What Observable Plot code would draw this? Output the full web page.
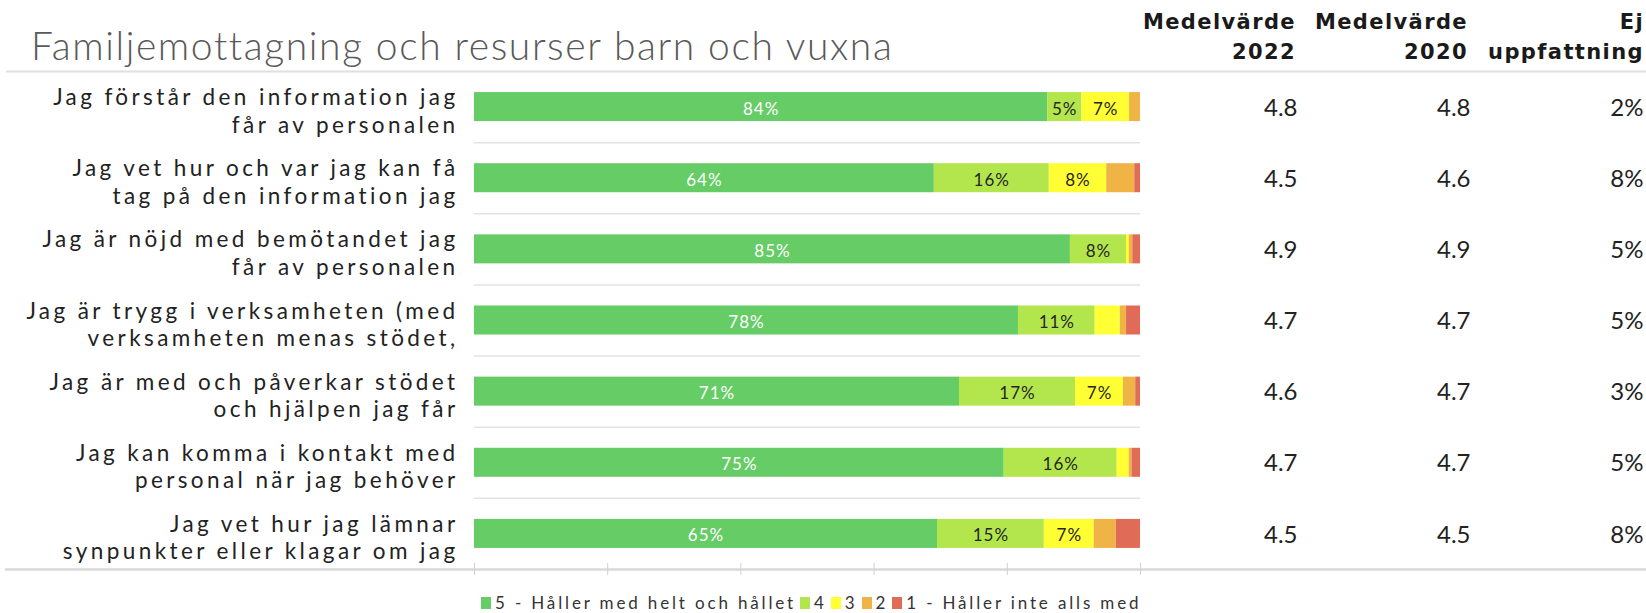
<!DOCTYPE html>
<html>
<head>
<meta charset="utf-8">
<script src="https://cdn.jsdelivr.net/npm/d3@7"></script>
<script src="https://cdn.jsdelivr.net/npm/@observablehq/plot@0.6"></script>
<style>
html, body { margin: 0; padding: 0; background: #fff; }
#wrap { position: relative; width: 1646px; height: 613px; overflow: hidden; font-family: Lato, "Open Sans", sans-serif; }
#title { position: absolute; left: 31px; top: 26px; font-weight: 300; font-size: 39px; line-height: 39px; color: #595959; white-space: nowrap; letter-spacing: 1.6px; }
.hdr { position: absolute; top: 7px; font-family: "DejaVu Sans", sans-serif; font-weight: bold; font-size: 21px; line-height: 30px; text-align: right; color: #1a1a1a; white-space: nowrap; letter-spacing: 1.4px; }
#chart { position: absolute; left: 0; top: 69px; }
#legend { position: absolute; left: 481px; top: 592px; display: flex; align-items: flex-start; font-size: 17px; line-height: normal; color: #333; white-space: nowrap; letter-spacing: 2.85px; }
#legend .item { display: flex; align-items: flex-start; margin-right: 4px; }
#legend .sw { width: 10px; height: 12px; margin-top: 5px; margin-right: 4px; }
</style>
</head>
<body>
<div id="wrap">
  <div id="title"></div>
  <div class="hdr" id="h1"></div>
  <div class="hdr" id="h2"></div>
  <div class="hdr" id="h3"></div>
  <div id="chart"></div>
  <div id="legend"></div>
</div>
<script>
// ---- data ----
const title = "Familjemottagning och resurser barn och vuxna";
const questions = [
  "Jag förstår den information jag\nfår av personalen",
  "Jag vet hur och var jag kan få\ntag på den information jag",
  "Jag är nöjd med bemötandet jag\nfår av personalen",
  "Jag är trygg i verksamheten (med\nverksamheten menas stödet,",
  "Jag är med och påverkar stödet\noch hjälpen jag får",
  "Jag kan komma i kontakt med\npersonal när jag behöver",
  "Jag vet hur jag lämnar\nsynpunkter eller klagar om jag"
];
const levelNames = ["5 - Håller med helt och hållet", "4", "3", "2", "1 - Håller inte alls med"];
const levelColors = ["#66cc66", "#b3e64c", "#ffff33", "#f0b446", "#e06c57"];
const level5 = [84, 64, 85, 78, 71, 75, 65];
const level4 = [5, 16, 8, 11, 17, 16, 15];
const level3 = [7, 8, 0.4, 3.6, 7, 1.7, 7];
const level2 = [1.6, 3.9, 0.5, 0.9, 1.8, 0.4, 3.1];
const level1 = [0, 0.8, 1.1, 2.0, 0.7, 1.2, 3.4];
const mean2022 = [4.8, 4.5, 4.9, 4.7, 4.6, 4.7, 4.5];
const mean2020 = [4.8, 4.6, 4.9, 4.7, 4.7, 4.7, 4.5];
const noOpinion = [2, 8, 5, 5, 3, 5, 8];
const columnHeaders = ["Medelvärde\n2022", "Medelvärde\n2020", "Ej\nuppfattning"];
const axisTicks = [0, 0.2, 0.4, 0.6, 0.8, 1];

// ---- build ----
const levels = [level5, level4, level3, level2, level1];
const n = questions.length;
const segs = [];
questions.forEach((q, i) => {
  levels.forEach((arr, j) => segs.push({i, j, level: levelNames[j], v: arr[i]}));
});
const pct = d => Math.round(d.v) + "%";

document.getElementById("title").textContent = title;
const hdrRight = [1296, 1468, 1644];
["h1", "h2", "h3"].forEach((id, k) => {
  const el = document.getElementById(id);
  el.innerHTML = columnHeaders[k].split("\n").join("<br>");
  el.style.right = (1646 - hdrRight[k]) + "px";
});

const chart = Plot.plot({
  width: 1646,
  height: 512,
  marginLeft: 474,
  marginRight: 506,
  marginTop: 2,
  marginBottom: 12,
  x: {domain: [0, 1], axis: null},
  y: {domain: [-0.5, n - 0.5], reverse: true, axis: null},
  color: {domain: levelNames, range: levelColors},
  style: {fontFamily: "Lato, 'Open Sans', sans-serif", background: "white", color: "#222"},
  marks: [
    Plot.ruleY(d3.range(1, n), {y: d => d - 0.5, stroke: "#e3e3e3", strokeWidth: 1.5}),
    Plot.ruleY([-0.5], {y: d => d, stroke: "#e0e0e0", strokeWidth: 2, insetLeft: -468, insetRight: -506}),
    Plot.ruleY([n - 0.5], {y: d => d, stroke: "#d9d9d9", strokeWidth: 2.5, insetLeft: -469, insetRight: -506}),
    Plot.ruleX(axisTicks, {x: d => d, y1: () => n - 0.5, y2: () => n - 0.5, insetTop: -6, insetBottom: -6, stroke: "#d0d0d0", strokeWidth: 1}),
    Plot.rectX(segs, Plot.stackX({x: "v", y1: d => d.i - 0.204, y2: d => d.i + 0.204, fill: "level", offset: "normalize"})),
    Plot.text(segs, Plot.stackX({x: "v", y: "i", offset: "normalize", text: d => (d.j === 0 && d.v >= 5) ? pct(d) : null, fill: "white", fontSize: 17, dy: 2})),
    Plot.text(segs, Plot.stackX({x: "v", y: "i", offset: "normalize", text: d => (d.j > 0 && d.v >= 5) ? pct(d) : null, fill: "#262626", fontSize: 17, dy: 2})),
    Plot.text(questions, {y: (d, i) => i, text: d => d, frameAnchor: "left", textAnchor: "end", dx: -16, dy: 3, fontSize: 22.5, lineHeight: 1.22, fill: "#222"}),
    Plot.text(mean2022, {y: (d, i) => i, text: d => d.toFixed(1), frameAnchor: "right", textAnchor: "end", dx: 157, dy: 1, fontSize: 24, fill: "#222"}),
    Plot.text(mean2020, {y: (d, i) => i, text: d => d.toFixed(1), frameAnchor: "right", textAnchor: "end", dx: 330, dy: 1, fontSize: 24, fill: "#222"}),
    Plot.text(noOpinion, {y: (d, i) => i, text: d => d + "%", frameAnchor: "right", textAnchor: "end", dx: 503, dy: 1, fontSize: 24, fill: "#222"})
  ]
});
document.getElementById("chart").appendChild(chart);

// letter spacing per text mark (style only)
const tg = chart.querySelectorAll('g[aria-label="text"]');
const spacing = [1, 1, 3.4, 0, 0, 0];
tg.forEach((g, k) => { g.style.letterSpacing = (spacing[k] || 0) + "px"; });

// legend
const lg = document.getElementById("legend");
levelNames.forEach((name, j) => {
  const it = document.createElement("div");
  it.className = "item";
  const sw = document.createElement("div");
  sw.className = "sw";
  sw.style.background = levelColors[j];
  const tx = document.createElement("span");
  tx.textContent = name;
  it.appendChild(sw); it.appendChild(tx);
  lg.appendChild(it);
});
</script>
</body>
</html>
